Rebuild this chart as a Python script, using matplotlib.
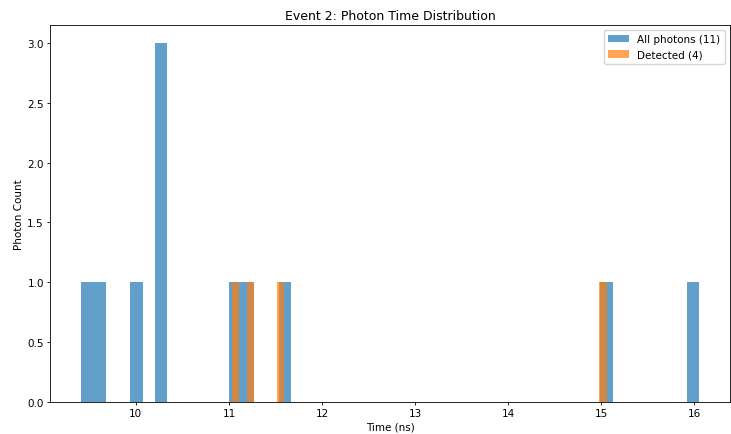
import matplotlib
matplotlib.use("Agg")
import matplotlib.pyplot as plt

all_times = [9.41, 9.60, 10.00, 10.25, 10.28, 10.30, 11.03, 11.22, 11.55, 15.06, 16.05]
detected_times = [11.03, 11.22, 11.55, 15.06]
title = "Event 2: Photon Time Distribution"
xlabel = "Time (ns)"
ylabel = "Photon Count"

plt.rcParams.update({
    "xtick.major.size": 2.2, "ytick.major.size": 2.2,
    "xtick.major.pad": 2.2, "ytick.major.pad": 2.2,
    "xtick.major.width": 0.6, "ytick.major.width": 0.6,
    "axes.linewidth": 0.6, "axes.labelpad": 2.5,
    "axes.titlepad": 4,
})

fig = plt.figure(figsize=(7.31, 4.35), dpi=100)
ax = fig.add_axes([50/731, 1-403/435, 680/731, (403-26)/435])
ax.hist(all_times, bins=50, alpha=0.7, label=f"All photons ({len(all_times)})", color="#1f77b4")
ax.hist(detected_times, bins=50, alpha=0.7, label=f"Detected ({len(detected_times)})", color="#ff7f0e")
ax.set_title(title, fontsize=9)
ax.set_xlabel(xlabel, fontsize=7.5)
ax.set_ylabel(ylabel, fontsize=7.5)
ax.tick_params(labelsize=7.5)
ax.legend(fontsize=7.5)
fig.savefig("out.png", dpi=100)
